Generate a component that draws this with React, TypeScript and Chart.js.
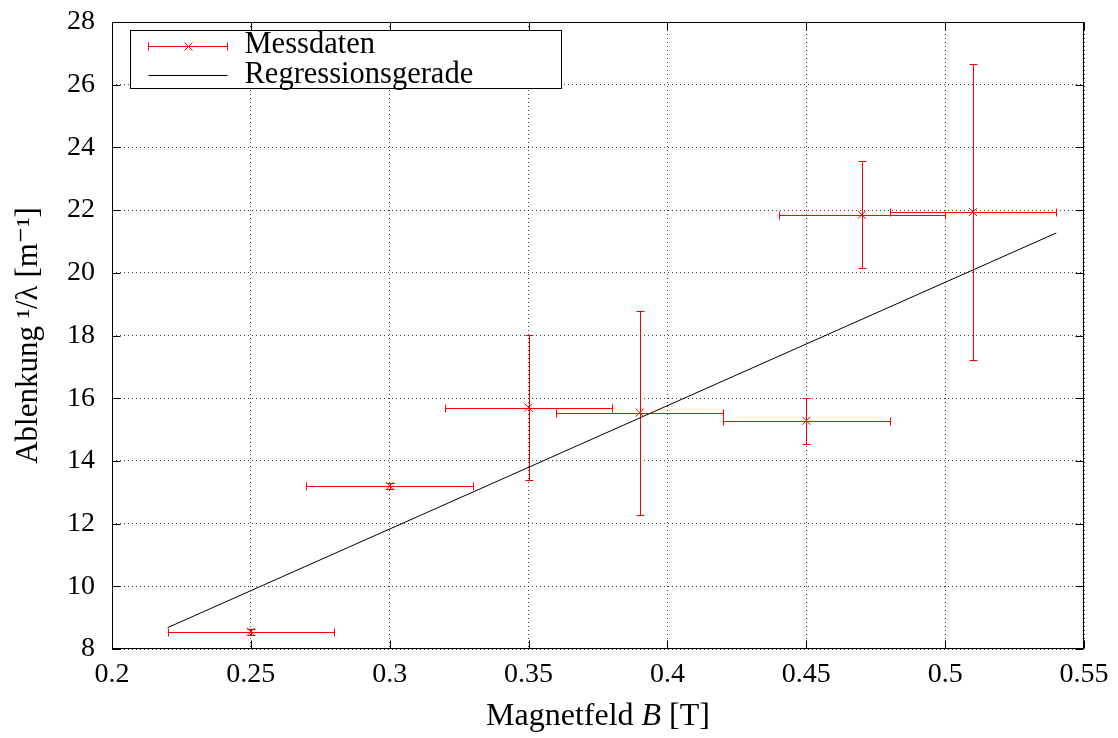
import { useEffect, useRef } from "react";
import { Chart, registerables } from "chart.js";

Chart.register(...registerables);

// ---- data ----
const magneticField = [0.25, 0.3, 0.35, 0.39, 0.45, 0.47, 0.51];
const magneticFieldError = [0.03, 0.03, 0.03, 0.03, 0.03, 0.03, 0.03];
const deflection = [8.55, 13.2, 15.7, 15.54, 15.28, 21.85, 21.94];
const deflectionError = [0.1, 0.1, 2.32, 3.25, 0.73, 1.71, 4.72];

const fitField = [0.22, 0.54];
const fitDeflection = [8.68, 21.27];

const xTickValues = [0.2, 0.25, 0.3, 0.35, 0.4, 0.45, 0.5, 0.55];
const yTickValues = [8, 10, 12, 14, 16, 18, 20, 22, 24, 26, 28];

const legendLabels = ["Messdaten", "Regressionsgerade"];
const xTitleParts = ["Magnetfeld ", "B", " [T]"];
const yTitle = "Ablenkung ¹/λ [m⁻¹]";

const FONT = "'Liberation Serif', 'DejaVu Serif', serif";
const RED = "#ff0000";

const errorBarPlugin = {
  id: "errorBars",
  beforeDatasetsDraw(chart: any) {
    const ctx = chart.ctx;
    const xs = chart.scales.x;
    const ys = chart.scales.y;
    const cap = 4;
    ctx.save();
    ctx.strokeStyle = RED;
    ctx.lineWidth = 1;
    for (let i = 0; i < magneticField.length; i++) {
      const x = Math.round(xs.getPixelForValue(magneticField[i])) + 0.5;
      const y = Math.round(ys.getPixelForValue(deflection[i])) + 0.5;
      const xl = Math.round(xs.getPixelForValue(magneticField[i] - magneticFieldError[i])) + 0.5;
      const xr = Math.round(xs.getPixelForValue(magneticField[i] + magneticFieldError[i])) + 0.5;
      const yt = Math.round(ys.getPixelForValue(deflection[i] + deflectionError[i])) + 0.5;
      const yb = Math.round(ys.getPixelForValue(deflection[i] - deflectionError[i])) + 0.5;
      ctx.beginPath();
      ctx.moveTo(xl, y);
      ctx.lineTo(xr, y);
      ctx.moveTo(xl, y - cap);
      ctx.lineTo(xl, y + cap);
      ctx.moveTo(xr, y - cap);
      ctx.lineTo(xr, y + cap);
      ctx.moveTo(x, yt);
      ctx.lineTo(x, yb);
      ctx.moveTo(x - cap, yt);
      ctx.lineTo(x + cap, yt);
      ctx.moveTo(x - cap, yb);
      ctx.lineTo(x + cap, yb);
      ctx.stroke();
    }
    ctx.restore();
  },
};

const framePlugin = {
  id: "frame",
  afterDraw(chart: any) {
    const ctx = chart.ctx;
    const { left, right, top, bottom } = chart.chartArea;
    const xs = chart.scales.x;
    const ys = chart.scales.y;
    const L = Math.round(left) + 0.5;
    const R = Math.round(right) - 0.5;
    const T = Math.round(top) + 0.5;
    const B = Math.round(bottom) - 0.5;
    const tick = 8;
    ctx.save();
    ctx.strokeStyle = "#000";
    ctx.lineWidth = 1;
    ctx.beginPath();
    for (const v of xTickValues) {
      const px = Math.round(xs.getPixelForValue(v)) + 0.5;
      ctx.moveTo(px, B);
      ctx.lineTo(px, B - tick);
      ctx.moveTo(px, T);
      ctx.lineTo(px, T + tick);
    }
    for (const v of yTickValues) {
      const py = Math.round(ys.getPixelForValue(v)) + 0.5;
      ctx.moveTo(L, py);
      ctx.lineTo(L + tick, py);
      ctx.moveTo(R, py);
      ctx.lineTo(R - tick, py);
    }
    ctx.stroke();
    ctx.strokeRect(L, T, R - L, B - T);

    // legend
    const lx = Math.round(left) + 18 + 0.5;
    const ly = Math.round(top) + 8 + 0.5;
    const lw = 431;
    const lh = 58;
    ctx.fillStyle = "#fff";
    ctx.fillRect(lx, ly, lw, lh);
    ctx.strokeStyle = "#000";
    ctx.strokeRect(lx, ly, lw, lh);
    const s0 = lx + 18;
    const s1 = lx + 97;
    const r1 = Math.round(ly + 15) + 0.5;
    const r2 = Math.round(ly + 44) + 0.5;
    ctx.strokeStyle = RED;
    ctx.beginPath();
    ctx.moveTo(s0, r1);
    ctx.lineTo(s1, r1);
    ctx.moveTo(s0, r1 - 4);
    ctx.lineTo(s0, r1 + 4);
    ctx.moveTo(s1, r1 - 4);
    ctx.lineTo(s1, r1 + 4);
    const cx = Math.round((s0 + s1) / 2) + 0.5;
    ctx.moveTo(cx - 4, r1 - 4);
    ctx.lineTo(cx + 4, r1 + 4);
    ctx.moveTo(cx - 4, r1 + 4);
    ctx.lineTo(cx + 4, r1 - 4);
    ctx.stroke();
    ctx.strokeStyle = "#000";
    ctx.beginPath();
    ctx.moveTo(s0, r2);
    ctx.lineTo(s1, r2);
    ctx.stroke();
    ctx.fillStyle = "#000";
    ctx.font = `30.5px ${FONT}`;
    ctx.textBaseline = "alphabetic";
    ctx.textAlign = "left";
    ctx.fillText(legendLabels[0], lx + 114, ly + 22);
    ctx.fillText(legendLabels[1], lx + 114, ly + 52);

    // x axis title with italic B
    const fonts = [`32px ${FONT}`, `italic 32px ${FONT}`, `32px ${FONT}`];
    let total = 0;
    const widths = xTitleParts.map((p, i) => {
      ctx.font = fonts[i];
      const w = ctx.measureText(p).width;
      total += w;
      return w;
    });
    let tx = (left + right) / 2 - total / 2;
    for (let i = 0; i < xTitleParts.length; i++) {
      ctx.font = fonts[i];
      ctx.fillText(xTitleParts[i], tx, 725);
      tx += widths[i];
    }
    ctx.restore();
  },
};

export default function App() {
  const canvasRef = useRef<HTMLCanvasElement | null>(null);

  useEffect(() => {
    document.body.style.margin = "0";
    const canvas = canvasRef.current;
    if (!canvas) return;
    Chart.defaults.font.family = FONT;
    Chart.defaults.color = "#000";
    const chart = new Chart(canvas, {
      type: "scatter",
      data: {
        datasets: [
          {
            label: legendLabels[0],
            data: magneticField.map((b, i) => ({ x: b, y: deflection[i] })),
            pointStyle: "crossRot",
            pointRadius: 5.7,
            pointHoverRadius: 5.7,
            borderColor: RED,
            backgroundColor: RED,
            borderWidth: 1,
            showLine: false,
          },
          {
            label: legendLabels[1],
            data: fitField.map((b, i) => ({ x: b, y: fitDeflection[i] })),
            showLine: true,
            borderColor: "#000",
            borderWidth: 1,
            pointRadius: 0,
            pointHoverRadius: 0,
            fill: false,
          },
        ],
      },
      options: {
        responsive: false,
        animation: false,
        events: [],
        layout: { padding: { top: 22, right: 34, left: 0, bottom: 0 } },
        plugins: {
          legend: { display: false },
          tooltip: { enabled: false },
        },
        scales: {
          x: {
            type: "linear",
            min: 0.2,
            max: 0.55,
            afterFit: (s: any) => {
              s.height = 89;
              s.paddingLeft = 0;
              s.paddingRight = 0;
            },
            afterBuildTicks: (s: any) => {
              s.ticks = xTickValues.map((v) => ({ value: v }));
            },
            ticks: {
              autoSkip: false,
              maxRotation: 0,
              padding: 9,
              font: { size: 28, family: FONT },
              color: "#000",
              callback: (v: any) => String(Math.round(Number(v) * 100) / 100),
            },
            grid: {
              color: "rgba(0,0,0,0.75)",
              lineWidth: 1,
              drawTicks: false,
            },
            border: { display: false, dash: [1, 3] },
          },
          y: {
            type: "linear",
            min: 8,
            max: 28,
            afterFit: (s: any) => {
              s.width = 112;
              s.paddingTop = 0;
              s.paddingBottom = 0;
            },
            afterBuildTicks: (s: any) => {
              s.ticks = yTickValues.map((v) => ({ value: v }));
            },
            ticks: {
              autoSkip: false,
              padding: 17,
              font: { size: 28, family: FONT },
              color: "#000",
              callback: (v: any) => String(v),
            },
            grid: {
              color: "rgba(0,0,0,0.75)",
              lineWidth: 1,
              drawTicks: false,
            },
            border: { display: false, dash: [1, 3] },
            title: {
              display: true,
              text: yTitle,
              color: "#000",
              font: { size: 31, family: FONT },
              padding: { top: 10, bottom: 0 },
            },
          },
        },
      },
      plugins: [errorBarPlugin, framePlugin],
    });
    return () => chart.destroy();
  }, []);

  return (
    <div style={{ position: "absolute", left: 0, top: 0, width: 1118, height: 738 }}>
      <canvas ref={canvasRef} width={1118} height={738} />
    </div>
  );
}
